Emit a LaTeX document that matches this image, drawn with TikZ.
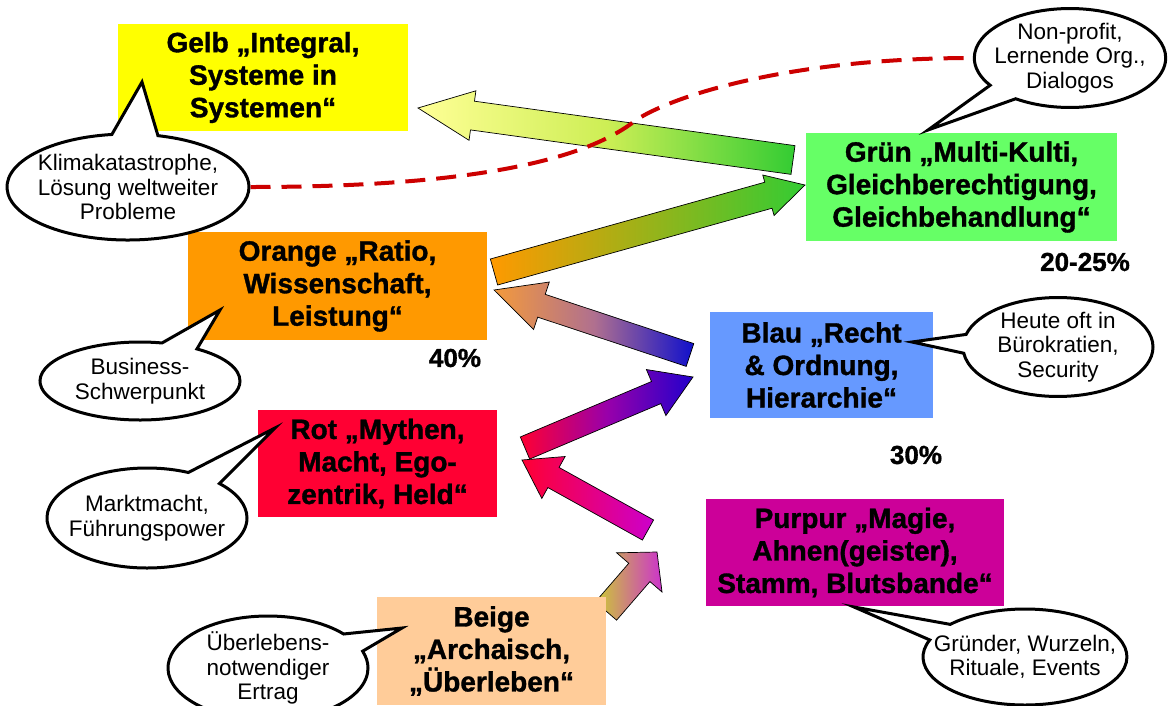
\documentclass[tikz,border=0pt]{standalone}
\usepackage{fontspec}
\setmainfont{Liberation Sans}
\newfontfamily\kastenfont{Liberation Sans}[BoldFeatures={FakeBold=1.2}]
\usetikzlibrary{calc,shapes.callouts}
\definecolor{gelb}{HTML}{FFFF00}
\definecolor{gruen}{HTML}{66FF66}
\definecolor{orange}{HTML}{FF9900}
\definecolor{blau}{HTML}{6699FF}
\definecolor{rot}{HTML}{FF0033}
\definecolor{purpur}{HTML}{CC0099}
\definecolor{beige}{HTML}{FFCC99}
\definecolor{strich}{HTML}{CC0000}
\newcommand{\farbpfeil}[6]{%
  \coordinate (kopf) at ($(#2)!#5!(#1)$);
  \path[draw=black,line width=0.7pt,#6]
    ($(#1)!#3!90:(#2)$) -- ($(kopf)!#3!90:(#2)$) -- ($(kopf)!#4!90:(#2)$) -- (#2)
    -- ($(kopf)!#4!-90:(#2)$) -- ($(kopf)!#3!-90:(#2)$) -- ($(#1)!#3!-90:(#2)$) -- cycle;}
\begin{document}
\begin{tikzpicture}[x=1pt,y=-1pt,
  kasten/.style={rectangle,inner sep=0pt,align=center,font=\kastenfont\bfseries\fontsize{28}{32.5}\selectfont},
  blase/.style={ellipse callout,draw=black,line width=3pt,fill=white,align=center,inner xsep=-8pt,inner ysep=0pt,callout pointer arc=22,font=\fontsize{22.5}{24.5}\selectfont},
  anteil/.style={font=\kastenfont\bfseries\fontsize{26}{30}\selectfont}]
\useasboundingbox (0,0) rectangle (1168,705);

\coordinate (p1a) at (793,160); \coordinate (p1b) at (418,108);
\coordinate (p2a) at (494,272); \coordinate (p2b) at (805,185);
\coordinate (p3a) at (690,355); \coordinate (p3b) at (494,290);
\coordinate (p4a) at (525,448); \coordinate (p4b) at (693,377);
\coordinate (p5a) at (648,530); \coordinate (p5b) at (522,460);
\coordinate (p6a) at (606,611); \coordinate (p6b) at (657,552);
\farbpfeil{p1a}{p1b}{14.5pt}{25pt}{55pt}{left color={rgb,255:red,255;green,255;blue,150},right color={rgb,255:red,51;green,204;blue,51},middle color={rgb,255:red,205;green,238;blue,85}}
\farbpfeil{p2a}{p2b}{13.5pt}{21pt}{38pt}{left color=orange,right color={rgb,255:red,51;green,204;blue,51}}
\farbpfeil{p3a}{p3b}{12pt}{25pt}{50pt}{left color={rgb,255:red,243;green,154;blue,60},right color={rgb,255:red,16;green,16;blue,204},middle color={rgb,255:red,176;green,112;blue,143}}
\farbpfeil{p4a}{p4b}{12pt}{25pt}{40pt}{left color=rot,right color={rgb,255:red,34;green,0;blue,204},middle color={rgb,255:red,153;green,0;blue,170}}
\farbpfeil{p5a}{p5b}{11.5pt}{24pt}{36pt}{left color=rot,right color={rgb,255:red,204;green,0;blue,204}}
\farbpfeil{p6a}{p6b}{14pt}{30pt}{27pt}{left color={rgb,255:red,204;green,204;blue,51},right color={rgb,255:red,204;green,51;blue,204}}

\node[kasten,fill=gelb,minimum width=290pt,minimum height=107pt] (gelb) at (263,77.5) {Gelb „Integral,\\Systeme in\\Systemen“};
\node[kasten,fill=gruen,minimum width=311pt,minimum height=108pt] (gruen) at (961.5,187) {Grün „Multi-Kulti,\\Gleichberechtigung,\\Gleichbehandlung“};
\node[kasten,fill=orange,minimum width=299pt,minimum height=108pt] (orange) at (337.5,286) {Orange „Ratio,\\Wissenschaft,\\Leistung“};
\node[kasten,fill=blau,minimum width=223pt,minimum height=106pt] (blau) at (821.5,365) {Blau „Recht\\\& Ordnung,\\Hierarchie“};
\node[kasten,fill=rot,minimum width=239pt,minimum height=107pt] (rot) at (377.5,463.5) {Rot „Mythen,\\Macht, Ego-\\zentrik, Held“};
\node[kasten,fill=purpur,minimum width=298pt,minimum height=107pt] (purpur) at (855,552.5) {Purpur „Magie,\\Ahnen(geister),\\Stamm, Blutsbande“};
\node[kasten,fill=beige,minimum width=229pt,minimum height=108pt] (beige) at (491.5,651) {Beige\\„Archaisch,\\„Überleben“};

\node[blase,minimum width=242pt,minimum height=106pt,callout absolute pointer={(142,82)}] (klima) at (128,187) {Klimakatastrophe,\\Lösung weltweiter\\Probleme};
\node[blase,minimum width=190pt,minimum height=90pt,callout absolute pointer={(928,130)}] (nonprofit) at (1070,58) {Non-profit,\\Lernende Org.,\\Dialogos};
\node[blase,minimum width=200pt,minimum height=78pt,callout absolute pointer={(220,310)}] (business) at (140,381) {Business-\\Schwerpunkt};
\node[blase,minimum width=200pt,minimum height=100pt,callout absolute pointer={(275,428)}] (markt) at (147,518) {Marktmacht,\\Führungspower};
\node[blase,minimum width=200pt,minimum height=104pt,callout absolute pointer={(402,628)}] (ertrag) at (268,668) {Überlebens-\\notwendiger\\Ertrag};
\node[blase,minimum width=190pt,minimum height=84pt,callout absolute pointer={(912,342)}] (heute) at (1058,347) {Heute oft in\\Bürokratien,\\Security};
\node[blase,inner xsep=-19pt,minimum width=202pt,minimum height=96pt,callout absolute pointer={(854,607)}] (gruender) at (1025,657) {Gründer, Wurzeln,\\Rituale, Events};

\node[anteil] (a40) at (455,358) {40\%};
\node[anteil] (a2025) at (1085,262) {20-25\%};
\node[anteil] (a30) at (916,455) {30\%};

\coordinate (knick) at (636,120);
\draw[strich,line width=4pt,dash pattern=on 20pt off 11pt] (klima.east) .. controls (450,187) and (580,165) .. (knick) .. controls (680,92) and (800,58) .. (nonprofit.west);
\end{tikzpicture}
\end{document}
